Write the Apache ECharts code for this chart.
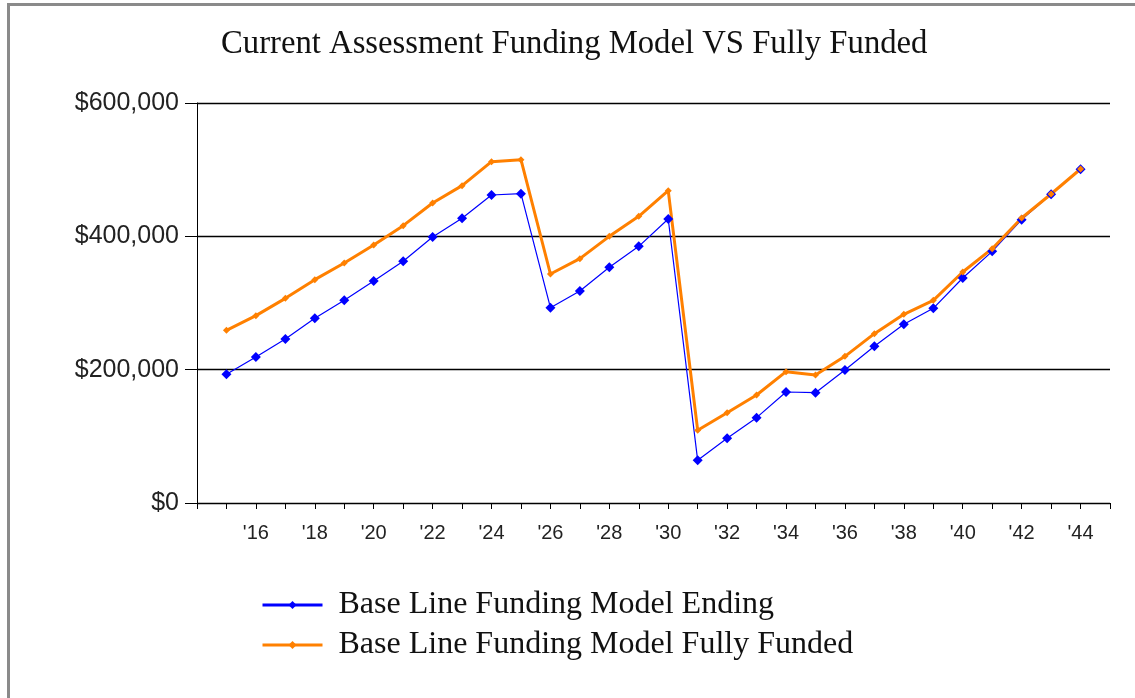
<!DOCTYPE html>
<html lang="en">
<head>
    <meta charset="UTF-8">
    <script type="text/javascript" src="https://cdn.jsdelivr.net/npm/echarts@6/dist/echarts.min.js"></script>
    <title>Current Assessment Funding Model VS Fully Funded</title>
    <style>
        body { margin: 0; background: #fff; }
        #frame {
            position: absolute; left: 7px; top: 3px; width: 1200px; height: 800px;
            border-left: 3px solid #8a8a8a; border-top: 3px solid #8a8a8a;
        }
        #main { position: absolute; left: 0; top: 0; width: 1135px; height: 698px; }
    </style>
</head>
<body>
    <div id="frame"></div>
    <div id="main"></div>
<script>
// fiscal years '15 .. '44
var years = [2015, 2016, 2017, 2018, 2019, 2020, 2021, 2022, 2023, 2024,
             2025, 2026, 2027, 2028, 2029, 2030, 2031, 2032, 2033, 2034,
             2035, 2036, 2037, 2038, 2039, 2040, 2041, 2042, 2043, 2044];

var endingBalance = [193000, 219000, 246000, 277000, 304000, 333000, 362500, 399000, 427000, 462000,
                     464000, 293000, 318000, 353500, 385000, 426000, 64000, 97000, 128000, 166500,
                     165500, 199500, 235000, 268000, 292000, 337500, 377500, 425000, 463000, 500500];

var fullyFunded = [259000, 281000, 307000, 335000, 360000, 387000, 416000, 450000, 476000, 512000,
                   515000, 343500, 366500, 400000, 430000, 468500, 109000, 135500, 162000, 197000,
                   192000, 220000, 254000, 283000, 304000, 346500, 381500, 427500, 463500, 501000];

var seriesNames = ['Base Line Funding Model Ending', 'Base Line Funding Model Fully Funded'];

function pairs(vals) {
    var out = [];
    for (var i = 0; i < years.length; i++) {
        out.push([years[i], vals[i]]);
    }
    return out;
}

var option = {
    animation: false,
    backgroundColor: 'transparent',
    title: {
        text: 'Current Assessment Funding Model VS Fully Funded',
        left: 216,
        top: 23,
        textStyle: {
            fontFamily: 'Liberation Serif',
            fontWeight: 'normal',
            fontSize: 32.7,
            color: '#111'
        }
    },
    legend: {
        orient: 'vertical',
        left: 261,
        top: 589,
        padding: 0,
        itemWidth: 60,
        itemHeight: 10,
        itemGap: 8,
        data: seriesNames,
        lineStyle: { width: 3 },
        textStyle: {
            fontFamily: 'Liberation Serif',
            fontSize: 32,
            color: '#111',
            padding: [0, 0, 0, 11]
        }
    },
    grid: {
        left: 197,
        right: 25,
        top: 103,
        bottom: 195,
        containLabel: false
    },
    xAxis: {
        type: 'value',
        min: 2014,
        max: 2045,
        interval: 1,
        splitLine: { show: false },
        axisLine: { lineStyle: { color: '#000', width: 1 } },
        axisTick: { length: 6, lineStyle: { color: '#000' } },
        axisLabel: {
            margin: 20,
            fontFamily: 'Liberation Sans',
            fontSize: 20,
            color: '#222',
            formatter: function (v) {
                return v % 2 === 0 && v > 2014 && v < 2045 ? "'" + String(v).slice(2) : '';
            }
        }
    },
    yAxis: {
        type: 'value',
        min: 0,
        max: 600000,
        interval: 200000,
        axisLine: { show: true, lineStyle: { color: '#000', width: 1 } },
        axisTick: { show: true, length: 12, lineStyle: { color: '#000' } },
        splitLine: { lineStyle: { color: '#000', width: 1.3 } },
        axisLabel: {
            margin: 18,
            fontFamily: 'Liberation Sans',
            fontSize: 25,
            color: '#222',
            formatter: function (v) {
                return '$' + v.toLocaleString('en-US');
            }
        }
    },
    series: [
        {
            name: seriesNames[0],
            type: 'line',
            data: pairs(endingBalance),
            symbol: 'diamond',
            symbolSize: 10,
            color: '#0000ff',
            lineStyle: { width: 1.2, color: '#0000ff' },
            itemStyle: { color: '#0000ff' }
        },
        {
            name: seriesNames[1],
            type: 'line',
            data: pairs(fullyFunded),
            symbol: 'diamond',
            symbolSize: 7,
            color: '#ff8000',
            lineStyle: { width: 3, color: '#ff8000' },
            itemStyle: { color: '#ff8000' }
        }
    ]
};

var myChart = echarts.init(document.getElementById('main'));
myChart.setOption(option);
</script>
</body>
</html>
